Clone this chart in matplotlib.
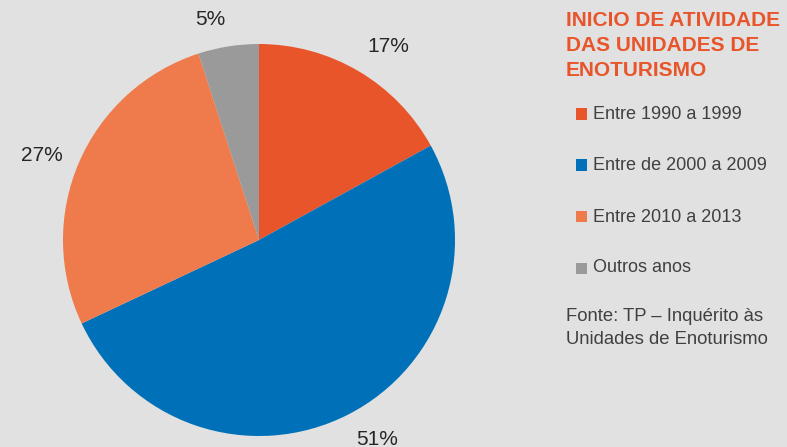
import numpy as np
import matplotlib.pyplot as plt
from matplotlib.patches import Rectangle

plt.rcParams['font.family'] = ['Liberation Sans', 'DejaVu Sans']

categories = ["Entre 1990 a 1999", "Entre de 2000 a 2009", "Entre 2010 a 2013", "Outros anos"]
shares = [17, 51, 27, 5]
colors = ["#e9552b", "#0071b9", "#ef7a4c", "#9a9a9a"]
title_lines = "INICIO DE ATIVIDADE\nDAS UNIDADES DE\nENOTURISMO"
source_text = "Fonte: TP \u2013 Inquérito às\nUnidades de Enoturismo"

W, H = 787, 447
bg = "#e1e1e1"
fig = plt.figure(figsize=(W / 100, H / 100), dpi=100, facecolor=bg)

# pie axes: centre (259, 240) px, radius 196 px
cx, cy, r = 259, 240, 196
ax = fig.add_axes([(cx - r) / W, (H - cy - r) / H, 2 * r / W, 2 * r / H])
ax.set_facecolor(bg)
wedges, texts = ax.pie(
    shares, colors=colors, startangle=90, counterclock=False, radius=1,
    labels=[f"{v}%" for v in shares], labeldistance=1.09,
    wedgeprops=dict(linewidth=0),
    textprops=dict(fontsize=15, color="#262626"),
)
# "outside end" style: anchor each label's inner side near the rim
for w, t in zip(wedges, texts):
    mid = np.deg2rad((w.theta1 + w.theta2) / 2)
    c, s = np.cos(mid), np.sin(mid)
    t.set_ha("left" if c > 0 else "right")
    if abs(s) < 0.5:
        t.set_va("center")
    else:
        t.set_va("bottom" if s > 0 else "top")
ax.set_xlim(-1, 1)
ax.set_ylim(-1, 1)
ax.axis("off")

# title
fig.text(566 / W, 1 - 11 / H, title_lines, ha="left", va="top", fontsize=15,
         fontweight="bold", color="#e9552b", linespacing=1.4)

# legend
rows_y = [114, 165, 217, 268]
for name, col, y in zip(categories, colors, rows_y):
    fig.patches.append(Rectangle((576 / W, 1 - (y + 5.5) / H), 11 / W, 11 / H,
                                 transform=fig.transFigure, facecolor=col,
                                 edgecolor="none"))
    fig.text(593 / W, 1 - y / H, name, ha="left", va="center", fontsize=13,
             color="#404040")

fig.text(566 / W, 1 - 308 / H, source_text, ha="left", va="top", fontsize=13.3,
         color="#404040", linespacing=1.45)

fig.savefig("out.png", dpi=100, facecolor=bg)
